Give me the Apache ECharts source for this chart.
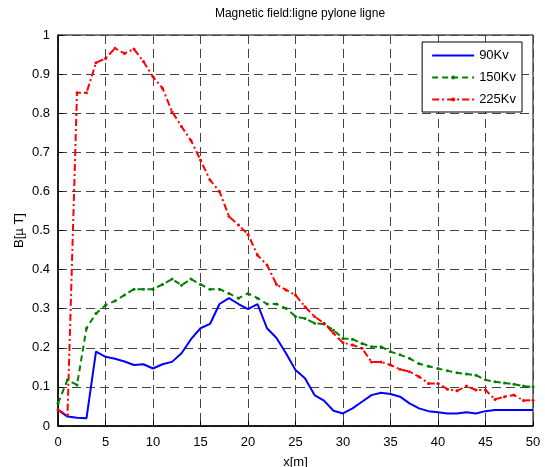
<!DOCTYPE html>
<html>
<head>
<meta charset="utf-8">
<script src="https://cdn.jsdelivr.net/npm/echarts@6/dist/echarts.min.js"></script>
<style>
  html, body { margin: 0; padding: 0; background: #fff; }
  #chart { width: 545px; height: 467px; }
</style>
</head>
<body>
<div id="chart"></div>
<script>
// x positions (m)
const xs = Array.from({length: 51}, (_, i) => i)

// magnetic field B [uT], one value per metre
const b90 = [
  0.041, 0.024, 0.021, 0.020, 0.190, 0.177, 0.172, 0.165, 0.156, 0.158,
  0.147, 0.158, 0.164, 0.186, 0.222, 0.250, 0.261, 0.312, 0.327, 0.312,
  0.299, 0.312, 0.250, 0.225, 0.186, 0.143, 0.122, 0.079, 0.065, 0.039,
  0.032, 0.045, 0.062, 0.079, 0.085, 0.082, 0.075, 0.058, 0.045, 0.038,
  0.035, 0.032, 0.032, 0.035, 0.032, 0.038, 0.041, 0.041, 0.041, 0.041,
  0.041
]
const b150 = [
  0.058, 0.118, 0.105, 0.250, 0.288, 0.309, 0.320, 0.335, 0.350, 0.350,
  0.350, 0.362, 0.376, 0.360, 0.376, 0.362, 0.350, 0.350, 0.339, 0.327,
  0.339, 0.327, 0.312, 0.312, 0.301, 0.280, 0.275, 0.263, 0.261, 0.245,
  0.224, 0.222, 0.211, 0.203, 0.203, 0.190, 0.182, 0.173, 0.159, 0.153,
  0.147, 0.141, 0.136, 0.133, 0.130, 0.118, 0.113, 0.110, 0.107, 0.102,
  0.100
]
const b225 = [
  0.041, 0.028, 0.852, 0.852, 0.929, 0.940, 0.966, 0.953, 0.964, 0.932,
  0.893, 0.864, 0.804, 0.766, 0.730, 0.680, 0.629, 0.600, 0.536, 0.514,
  0.490, 0.437, 0.412, 0.362, 0.348, 0.335, 0.305, 0.280, 0.263, 0.237,
  0.213, 0.207, 0.199, 0.164, 0.164, 0.156, 0.145, 0.139, 0.126, 0.109,
  0.109, 0.094, 0.090, 0.102, 0.092, 0.092, 0.068, 0.075, 0.079, 0.065,
  0.066
]
const seriesNames = ['90Kv', '150Kv', '225Kv']

const pairs = (ys) => xs.map((x, i) => [x, ys[i]])

const font = 'Liberation Sans, Arial, sans-serif'
const gridLine = {show: true, lineStyle: {color: '#444', type: [9, 5], width: 1}}

const chart = echarts.init(document.getElementById('chart'))
chart.setOption({
  animation: false,
  backgroundColor: '#fff',
  title: {
    text: 'Magnetic field:ligne pylone ligne',
    left: 295, top: 3, textAlign: 'center',
    textStyle: {fontFamily: font, fontSize: 12, fontWeight: 'normal', color: '#000'}
  },
  grid: {
    left: 58, right: 12, top: 35, bottom: 41, outerBoundsMode: 'none',
    show: true, borderColor: '#000', borderWidth: 1
  },
  legend: {
    orient: 'vertical', right: 23, top: 42,
    backgroundColor: '#fff', borderColor: '#000', borderWidth: 1,
    padding: [7, 6, 6, 9], itemGap: 9, itemWidth: 42, itemHeight: 5,
    textStyle: {fontFamily: font, fontSize: 13, color: '#000'},
    data: [
      {name: seriesNames[0], itemStyle: {opacity: 0}},
      {name: seriesNames[1]},
      {name: seriesNames[2]}
    ]
  },
  xAxis: {
    type: 'value', min: 0, max: 50, interval: 5,
    name: 'x[m]', nameLocation: 'middle', nameGap: 30,
    nameTextStyle: {fontFamily: font, fontSize: 13, color: '#000'},
    axisLine: {lineStyle: {color: '#000', width: 1.5}},
    axisTick: {inside: true, length: 5, lineStyle: {color: '#000'}},
    axisLabel: {fontFamily: font, fontSize: 13, color: '#000', margin: 10},
    splitLine: gridLine
  },
  yAxis: {
    type: 'value', min: 0, max: 1, interval: 0.1,
    name: 'B[µ T]', nameLocation: 'middle', nameGap: 32, nameMoveOverlap: false,
    nameTextStyle: {fontFamily: font, fontSize: 13, color: '#000'},
    axisLine: {show: true, lineStyle: {color: '#000', width: 1.5}},
    axisTick: {show: true, inside: true, length: 5, lineStyle: {color: '#000'}},
    axisLabel: {fontFamily: font, fontSize: 13, color: '#000', margin: 8},
    splitLine: gridLine
  },
  series: [
    {
      name: seriesNames[0], type: 'line', data: pairs(b90),
      symbol: 'none', color: '#0000ff',
      lineStyle: {color: '#0000ff', width: 2}
    },
    {
      name: seriesNames[1], type: 'line', data: pairs(b150),
      symbol: 'circle', symbolSize: 3, color: '#008000',
      itemStyle: {color: '#008000'},
      lineStyle: {color: '#008000', width: 2, type: [6, 4]}
    },
    {
      name: seriesNames[2], type: 'line', data: pairs(b225),
      symbol: 'circle', symbolSize: 3, color: '#ff0000',
      itemStyle: {color: '#ff0000'},
      lineStyle: {color: '#ff0000', width: 2, type: [7, 3, 2, 3]}
    }
  ]
})
</script>
</body>
</html>
